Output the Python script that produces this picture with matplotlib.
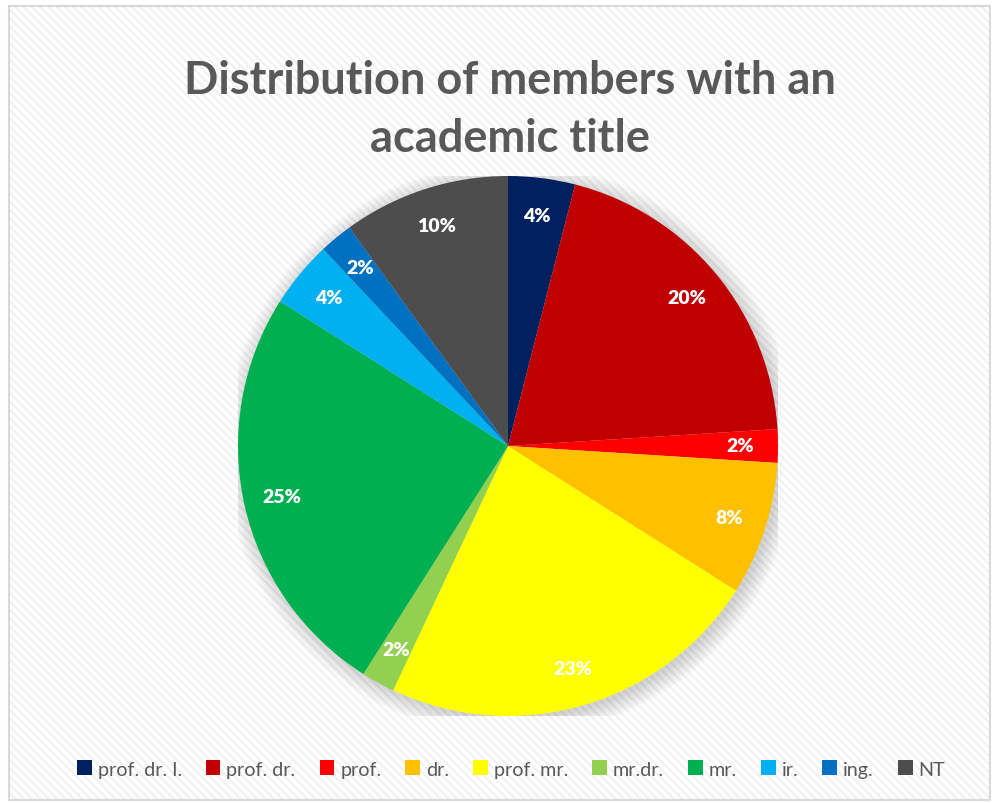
import matplotlib
matplotlib.use('Agg')
import matplotlib.pyplot as plt
from matplotlib.patches import Rectangle, Circle

LABELS = ['prof. dr. I.', 'prof. dr.', 'prof.', 'dr.', 'prof. mr.',
          'mr.dr.', 'mr.', 'ir.', 'ing.', 'NT']
SHARES = [4, 20, 2, 8, 23, 2, 25, 4, 2, 10]
COLORS = ['#002060', '#c00000', '#ff0000', '#ffc000', '#ffff00',
          '#92d050', '#00b050', '#00b0f0', '#0070c0', '#4d4d4d']
TITLE = 'Distribution of members with an\nacademic title'

W, H = 992, 804
plt.rcParams['hatch.linewidth'] = 1.6

fig = plt.figure(figsize=(W / 100, H / 100), dpi=100)
fig.patch.set_facecolor('white')

# striped background + thin frame
bg = Rectangle((9 / W, 1 - 801 / H), 981 / W, 794 / H, transform=fig.transFigure,
               facecolor='white', edgecolor='#f1f1f1', hatch='\\\\\\\\', lw=0, zorder=-10)
fig.patches.append(bg)
frame = Rectangle((9 / W, 1 - 801 / H), 981 / W, 794 / H, transform=fig.transFigure,
                  facecolor='none', edgecolor='#d9d9d9', lw=1.5, zorder=-9)
fig.patches.append(frame)

cx, cy, r = 508, 447, 270
ax = fig.add_axes([(cx - r) / W, (H - cy - r) / H, 2 * r / W, 2 * r / H])
ax.set_xlim(-1, 1)
ax.set_ylim(-1, 1)
ax.set_aspect('equal')
ax.axis('off')

# soft shadow
for i in range(14):
    ax.add_patch(Circle((0.012, -0.012), 1.0 + i * 0.005, color='black',
                        alpha=0.012, lw=0, zorder=0))

wedges, texts, autotexts = ax.pie(
    SHARES, colors=COLORS, startangle=90, counterclock=False,
    autopct='%d%%', pctdistance=0.86, radius=1.0,
    wedgeprops=dict(linewidth=0),
    textprops=dict(color='white', fontsize=14, fontweight='heavy', family='Lato'))
for w in wedges:
    w.set_zorder(2)
for t in autotexts:
    t.set_zorder(3)
ax.set_xlim(-1, 1)
ax.set_ylim(-1, 1)

fig.text(510 / W, 1 - 110 / H, TITLE, ha='center', va='center',
         fontsize=32.5, fontweight='bold', color='#595959', family='Lato',
         linespacing=1.5)

leg = fig.legend(wedges, LABELS, loc='center', bbox_to_anchor=(511 / W, 1 - 770 / H),
                 ncol=10, frameon=False, handlelength=0.75, handleheight=0.75,
                 handletextpad=0.3, columnspacing=1.22,
                 prop=dict(family='Lato', size=14.2))
for t in leg.get_texts():
    t.set_color('#595959')

fig.savefig('out.png', dpi=100)
